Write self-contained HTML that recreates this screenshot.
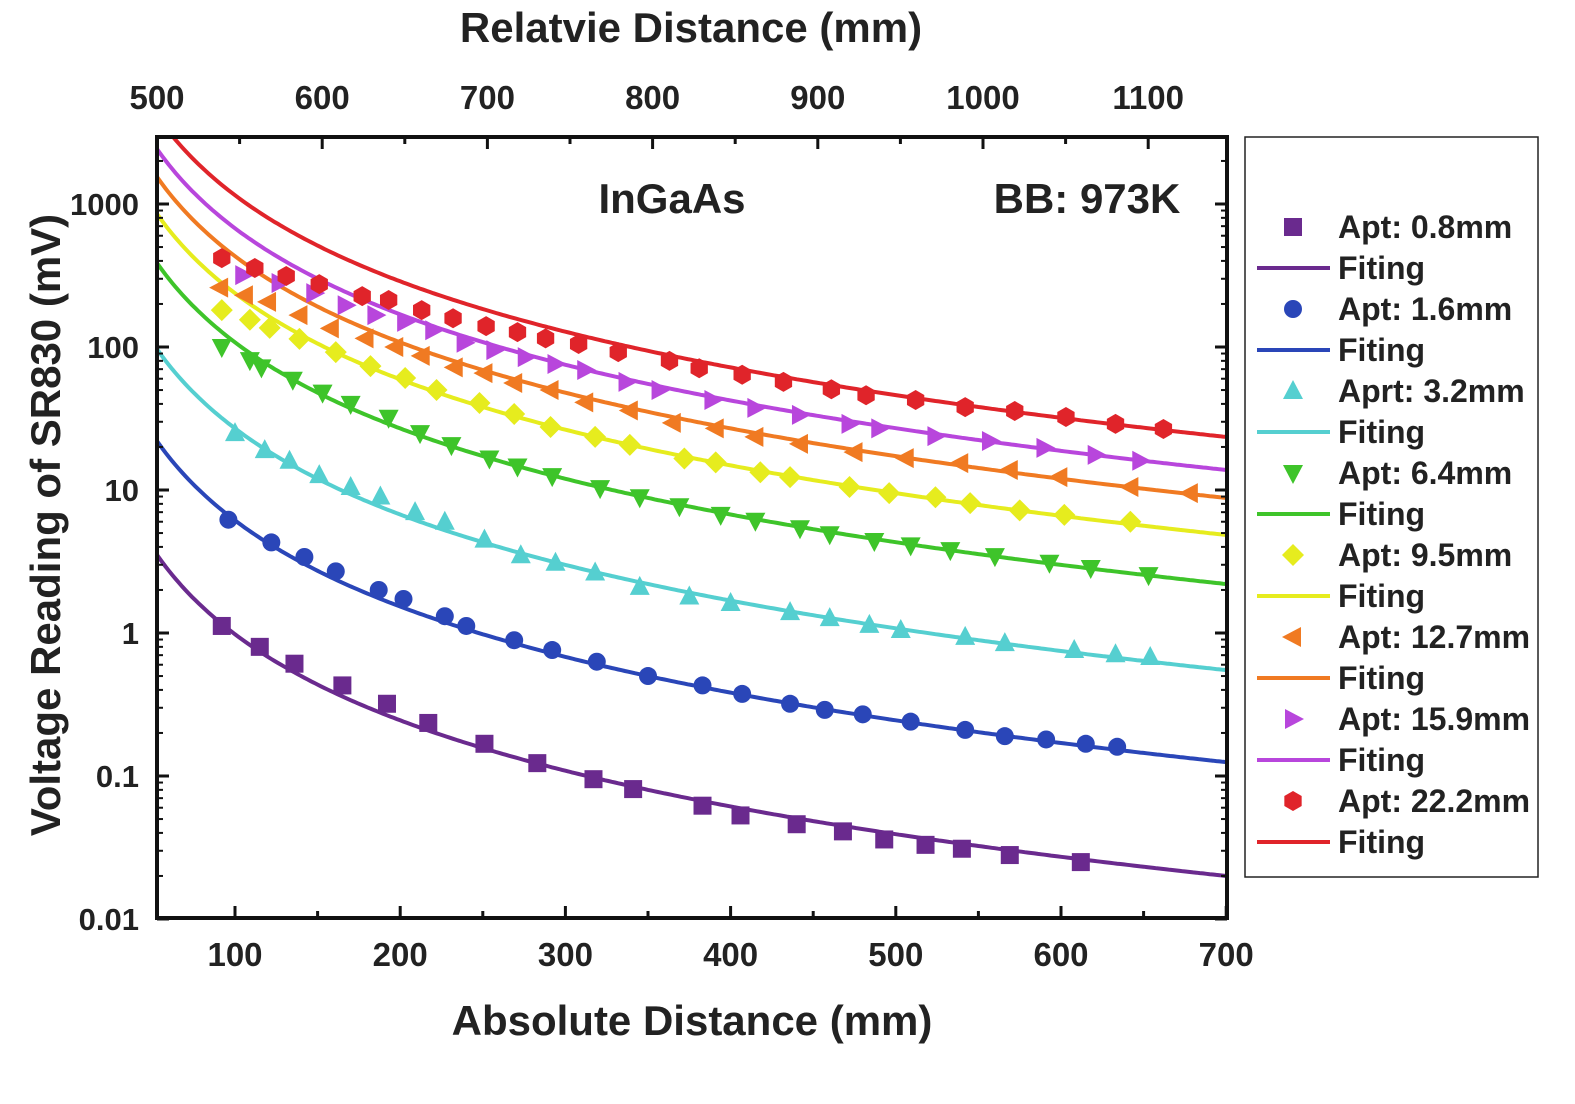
<!DOCTYPE html>
<html><head><meta charset="utf-8"><style>
html,body{margin:0;padding:0;background:#fff;}
svg text{font-family:"Liberation Sans",Arial,sans-serif;font-weight:bold;fill:#222;}
</style></head><body>
<svg id="chart" width="1575" height="1099" viewBox="0 0 1575 1099" xmlns="http://www.w3.org/2000/svg">
<defs><clipPath id="plotclip"><rect x="157" y="137" width="1070" height="781"/></clipPath></defs>
<g id="grid"></g>
<g id="series" clip-path="url(#plotclip)"></g>
<g id="axes"></g>
<g id="legend"></g>
</svg>
<script>
const bottomTicks=[100,200,300,400,500,600,700];
const topTicks=[500,600,700,800,900,1000,1100];
const yTicks=[0.01,0.1,1,10,100,1000];
const yTickLabels=["0.01","0.1","1","10","100","1000"];
const seriesNames=["Apt: 0.8mm","Apt: 1.6mm","Aprt: 3.2mm","Apt: 6.4mm","Apt: 9.5mm","Apt: 12.7mm","Apt: 15.9mm","Apt: 22.2mm"];
const colors=["#6a2a8e","#2a46b8","#55cfd0","#3ec42a","#e6ec1e","#f07a22","#b846dc","#e0242a"];
const markerColors=["#6a2a8e","#2a46b8","#55cfd0","#3ec42a","#e6ec1e","#f07a22","#b846dc","#e0242a"];
const shapes=["square","circle","up","down","diamond","left","right","hex"];
// fitted value at 700 mm (fit ~ A/x^2)
const fitAt700=[0.02,0.125,0.55,2.2,4.85,8.8,13.8,23.5];
const x0=[92,115,136,165,192,217,251,283,317,341,383,406,440,468,493,518,540,569,612];
const y0=[1.12,0.80,0.61,0.43,0.32,0.235,0.168,0.123,0.095,0.081,0.062,0.053,0.046,0.041,0.036,0.033,0.031,0.028,0.025];
const x1=[96,122,142,161,187,202,227,240,269,292,319,350,383,407,436,457,480,509,542,566,591,615,634];
const y1=[6.2,4.3,3.4,2.7,2.0,1.73,1.31,1.12,0.89,0.76,0.63,0.50,0.43,0.375,0.32,0.29,0.27,0.24,0.21,0.19,0.18,0.168,0.16];
const x2=[100,118,133,151,170,188,209,227,251,273,294,318,345,375,400,436,460,484,503,542,566,608,633,654];
const y2=[25,19,16,12.7,10.5,9,7.0,6.0,4.5,3.5,3.1,2.65,2.1,1.8,1.62,1.40,1.27,1.14,1.05,0.94,0.85,0.76,0.71,0.68];
const x3=[92,109,116,135,153,170,193,212,231,254,271,292,321,345,369,394,415,442,460,487,509,533,560,593,618,653];
const y3=[100,81,72,59,48,40,32,25,20.6,16.6,14.6,12.5,10.3,8.9,7.7,6.7,6.1,5.4,4.9,4.4,4.1,3.8,3.45,3.1,2.85,2.54];
const x4=[92,109,121,139,161,182,203,222,248,269,291,318,339,372,391,418,436,472,496,524,545,575,602,642];
const y4=[181,155,136,114,92,73.5,60.7,50,40.6,34,27.6,23.5,20.7,16.6,15.6,13.3,12.3,10.5,9.5,8.9,8.1,7.2,6.7,6.0];
const x5=[91,106,120,139,158,179,197,213,233,251,269,291,312,339,365,391,415,442,475,506,539,569,599,642,678];
const y5=[260,230,207,167,135,115,100,86.6,72,65.6,56,50,41,36,29.5,27,23.5,21,18.4,16.7,15.4,13.8,12.3,10.5,9.5];
const x6=[105,127,148,167,185,203,220,239,257,276,294,312,337,357,389,415,442,472,490,524,557,590,621,648];
const y6=[318,280,238,196,167,150,131,107,95,85,76,69,57,50,42.6,37.5,33.5,29,27,23.8,22,19.7,17.6,16.0];
const x7=[92,112,131,151,177,193,213,232,252,271,288,308,332,363,381,407,432,461,482,512,542,572,603,633,662];
const y7=[418,357,314,275,227,213,181,159,140,127,115,105,92,80,71,64,57,50.6,46,42.6,38,35.7,32.4,29,26.7];
const xs=[x0,x1,x2,x3,x4,x5,x6,x7];
const ys=[y0,y1,y2,y3,y4,y5,y6,y7];

const NS="http://www.w3.org/2000/svg";
const L=157,R=1227,T=137,B=918;
function X(v){return 235+(v-100)*1.652;}
function XT(v){return 157+(v-500)*1.652;}
function Y(v){return 633-Math.log10(v)*143;}
function mk(tag,attrs,parent){const e=document.createElementNS(NS,tag);for(const k in attrs)e.setAttribute(k,attrs[k]);parent.appendChild(e);return e;}
const axes=document.getElementById('axes'),series=document.getElementById('series'),legend=document.getElementById('legend');

function marker(shape,cx,cy,color,parent){
  let e,s=9;
  if(shape==="square")e=mk('rect',{x:cx-s,y:cy-s,width:2*s,height:2*s,fill:color},parent);
  else if(shape==="circle")e=mk('circle',{cx:cx,cy:cy,r:s,fill:color},parent);
  else{
    let p;
    if(shape==="up")p=[[0,-11],[10,8],[-10,8]];
    else if(shape==="down")p=[[0,11],[10,-8],[-10,-8]];
    else if(shape==="left")p=[[-11,0],[8,-10],[8,10]];
    else if(shape==="right")p=[[11,0],[-8,-10],[-8,10]];
    else if(shape==="diamond")p=[[0,-11],[11,0],[0,11],[-11,0]];
    else {p=[];for(let i=0;i<6;i++){const a=Math.PI/6+i*Math.PI/3;p.push([10*Math.cos(a),10*Math.sin(a)]);}}
    e=mk('polygon',{points:p.map(q=>(cx+q[0])+','+(cy+q[1])).join(' '),fill:color},parent);
  }
  return e;
}

for(let s=0;s<8;s++){
  const A=fitAt700[s]*700*700;
  let d="";
  for(let v=52;v<=701;v+=2){const val=A/(v*v);d+=(d?"L":"M")+X(v).toFixed(1)+","+Y(val).toFixed(1);}
  const path=mk('path',{d:d,fill:"none",stroke:colors[s],"stroke-width":4},series);
  
  
  for(let i=0;i<xs[s].length;i++){
    const m=marker(shapes[s],X(xs[s][i]),Y(ys[s][i]),markerColors[s],series);
    
    
  }
}

const fr=mk('rect',{x:L,y:T,width:R-L,height:B-T,fill:"none",stroke:"#111","stroke-width":4},axes);


bottomTicks.forEach(v=>{
  const x=X(v);
  mk('line',{x1:x,y1:B,x2:x,y2:B-12,stroke:"#111","stroke-width":3},axes);
  const t=mk('text',{x:x,y:B+48,"text-anchor":"middle","font-size":33},axes);t.textContent=v;
  
  
});
for(let v=150;v<700;v+=100){mk('line',{x1:X(v),y1:B,x2:X(v),y2:B-7,stroke:"#111","stroke-width":3},axes);}
topTicks.forEach(v=>{
  const x=XT(v);
  mk('line',{x1:x,y1:T,x2:x,y2:T+12,stroke:"#111","stroke-width":3},axes);
  const t=mk('text',{x:x,y:T-28,"text-anchor":"middle","font-size":33},axes);t.textContent=v;
  
  
});
for(let v=550;v<1200;v+=100){if(XT(v)<R)mk('line',{x1:XT(v),y1:T,x2:XT(v),y2:T+7,stroke:"#111","stroke-width":3},axes);}
yTicks.forEach((v,i)=>{
  const y=Y(v);
  [L,R].forEach(xx=>{const dir=xx===L?1:-1;mk('line',{x1:xx,y1:y,x2:xx+dir*12,y2:y,stroke:"#111","stroke-width":3},axes);});
  const t=mk('text',{x:L-18,y:y+11,"text-anchor":"end","font-size":31},axes);t.textContent=yTickLabels[i];
  
  
});
for(let e=-2;e<=3;e++){for(let k=2;k<=9;k++){const v=k*Math.pow(10,e);const y=Y(v);if(y<T+2)continue;
  [L,R].forEach(xx=>{const dir=xx===L?1:-1;mk('line',{x1:xx,y1:y,x2:xx+dir*6,y2:y,stroke:"#111","stroke-width":2},axes);});}}

function txt(str,attrs,name){const t=mk('text',attrs,axes);t.textContent=str;return t;}
txt("Absolute Distance (mm)",{x:692,y:1035,"text-anchor":"middle","font-size":42},"x-axis-title");
txt("Relatvie Distance (mm)",{x:691,y:42,"text-anchor":"middle","font-size":42},"top-axis-title");
txt("Voltage Reading of SR830 (mV)",{x:0,y:0,"text-anchor":"middle","font-size":42,transform:"translate(60,525) rotate(-90)"},"y-axis-title");
txt("InGaAs",{x:672,y:213,"text-anchor":"middle","font-size":42},"material-label");
txt("BB: 973K",{x:1087,y:213,"text-anchor":"middle","font-size":42},"blackbody-label");

const lb=mk('rect',{x:1245,y:137,width:293,height:740,fill:"#fff",stroke:"#222","stroke-width":1.5},legend);


for(let s=0;s<8;s++){
  const y1=227+s*82, y2=y1+41;
  const m=marker(shapes[s],1293,y1,markerColors[s],legend);
  
  
  const t1=mk('text',{x:1338,y:y1+11,"font-size":32},legend);t1.textContent=seriesNames[s];
  
  
  const ln=mk('line',{x1:1257,y1:y2,x2:1330,y2:y2,stroke:colors[s],"stroke-width":4},legend);
  
  
  const t2=mk('text',{x:1338,y:y2+11,"font-size":32},legend);t2.textContent="Fiting";
  
  
}
</script>
</body></html>
